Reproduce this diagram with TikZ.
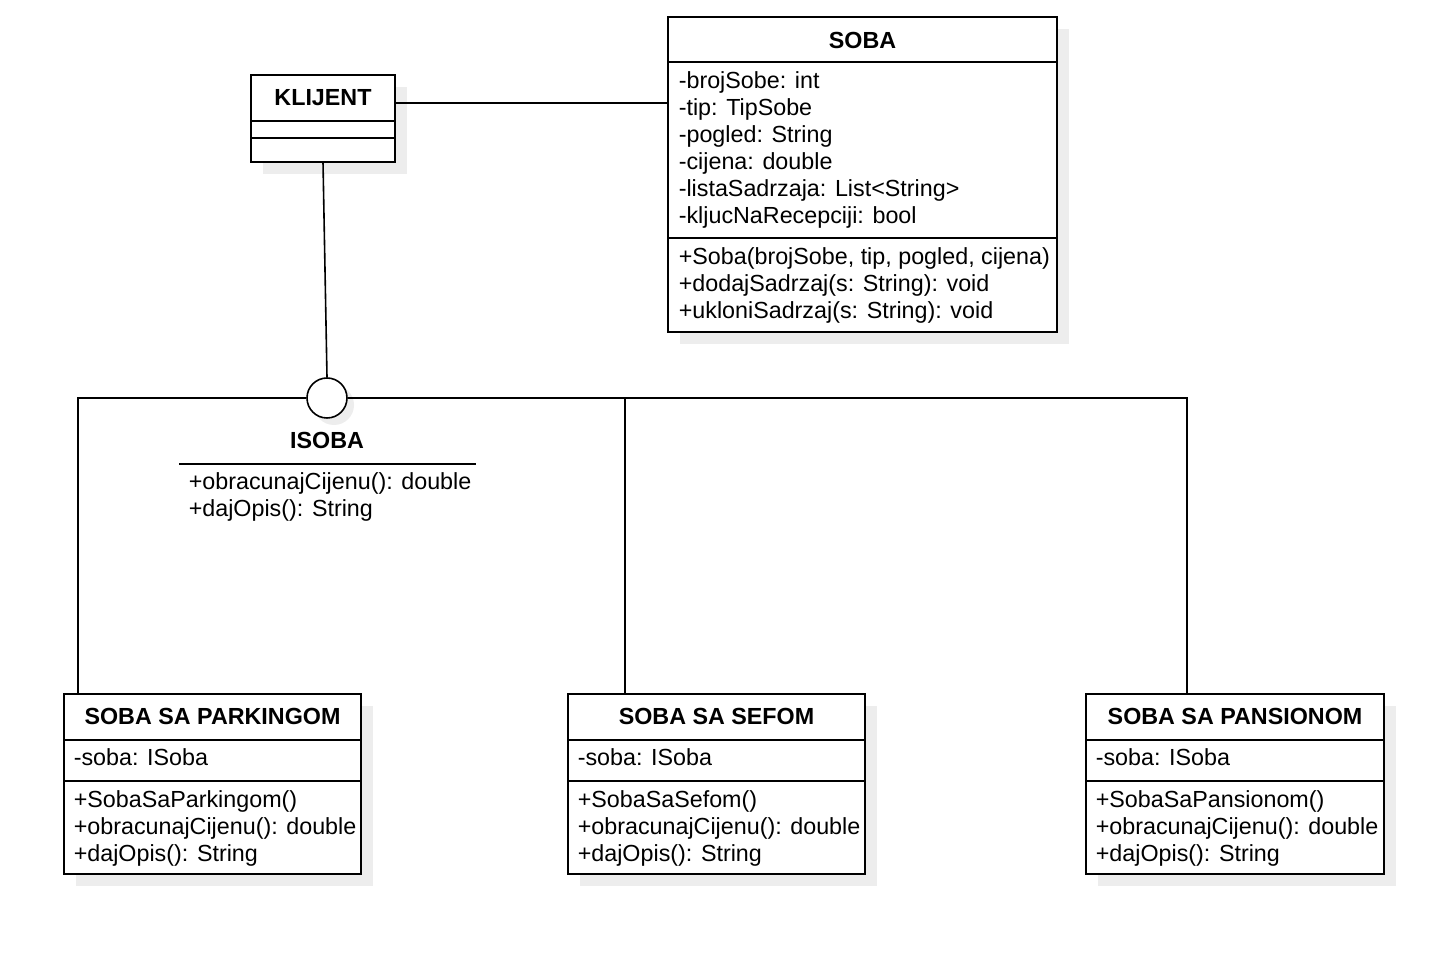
\documentclass[tikz,border=0pt]{standalone}
\usepackage{fontspec}
\setmainfont{Liberation Sans}
\usetikzlibrary{calc}
\begin{document}
\begin{tikzpicture}[x=0.5pt,y=-0.5pt, line width=0.8pt,
  cls/.style={draw=black, fill=white, anchor=north west, inner sep=0, outer sep=0},
  shd/.style={fill=black!7, draw=none},
  txt/.style={anchor=base west, inner sep=0, font=\fontsize{11.65}{13.5}\selectfont},
  ttl/.style={anchor=base, inner sep=0, font=\fontsize{11.65}{13.5}\selectfont\bfseries},
  ]
\useasboundingbox[fill=white] (0,0) rectangle (1456,961);

% shadows
\fill[shd] (263,87) rectangle (407,174);
\fill[shd] (680,29) rectangle (1069,344);
\fill[shd] (76,706) rectangle (373,886);
\fill[shd] (580,706) rectangle (877,886);
\fill[shd] (1098,706) rectangle (1396,886);
\fill[shd] (334,405) circle[radius=10pt];

% KLIJENT
\node[cls, minimum width=72pt, minimum height=43.5pt] (klijent) at (251,75) {};
\draw (251,121) -- (395,121);
\draw (251,138) -- (395,138);
\node[ttl] (klijentT) at (323,106) {KLIJENT};

% SOBA
\node[cls, minimum width=194.5pt, minimum height=157.5pt] (soba) at (668,17) {};
\draw (668,62) -- (1057,62);
\draw (668,238) -- (1057,238);
\node[ttl] (sobaT) at (862.5,49) {SOBA};
\node[txt] (sa1) at (678,89) {-brojSobe: int};
\node[txt] (sa2) at (678,116) {-tip: TipSobe};
\node[txt] (sa3) at (678,143) {-pogled: String};
\node[txt] (sa4) at (678,170) {-cijena: double};
\node[txt] (sa5) at (678,197) {-listaSadrzaja: List<String>};
\node[txt] (sa6) at (678,224) {-kljucNaRecepciji: bool};
\node[txt] (sm1) at (678,265) {+Soba(brojSobe, tip, pogled, cijena)};
\node[txt] (sm2) at (678,292) {+dodajSadrzaj(s: String): void};
\node[txt] (sm3) at (678,319) {+ukloniSadrzaj(s: String): void};

% ISOBA interface
\node[circle, draw=black, fill=white, minimum size=20pt, inner sep=0] (isoba) at (327,398) {};
\node[ttl] (isobaT) at (327,449) {ISOBA};
\draw (179,464) -- (476,464);
\node[txt] (im1) at (188,490) {+obracunajCijenu(): double};
\node[txt] (im2) at (188,517) {+dajOpis(): String};

% SOBA SA PARKINGOM
\node[cls, minimum width=148.5pt, minimum height=90pt] (park) at (64,694) {};
\draw (64,740) -- (361,740);
\draw (64,781) -- (361,781);
\node[ttl] (parkT) at (212.5,725) {SOBA SA PARKINGOM};
\node[txt] (pa1) at (73,766) {-soba: ISoba};
\node[txt] (pm1) at (73,807) {+SobaSaParkingom()};
\node[txt] (pm2) at (73,834) {+obracunajCijenu(): double};
\node[txt] (pm3) at (73,861) {+dajOpis(): String};

% SOBA SA SEFOM
\node[cls, minimum width=148.5pt, minimum height=90pt] (sef) at (568,694) {};
\draw (568,740) -- (865,740);
\draw (568,781) -- (865,781);
\node[ttl] (sefT) at (716.5,725) {SOBA SA SEFOM};
\node[txt] (fa1) at (577,766) {-soba: ISoba};
\node[txt] (fm1) at (577,807) {+SobaSaSefom()};
\node[txt] (fm2) at (577,834) {+obracunajCijenu(): double};
\node[txt] (fm3) at (577,861) {+dajOpis(): String};

% SOBA SA PANSIONOM
\node[cls, minimum width=149pt, minimum height=90pt] (pans) at (1086,694) {};
\draw (1086,740) -- (1384,740);
\draw (1086,781) -- (1384,781);
\node[ttl] (pansT) at (1235,725) {SOBA SA PANSIONOM};
\node[txt] (na1) at (1095,766) {-soba: ISoba};
\node[txt] (nm1) at (1095,807) {+SobaSaPansionom()};
\node[txt] (nm2) at (1095,834) {+obracunajCijenu(): double};
\node[txt] (nm3) at (1095,861) {+dajOpis(): String};

% connectors
\draw ([yshift=7.75pt]klijent.east) -- ([yshift=7.75pt]klijent.east -| soba.west);
\draw (klijent.south) -- (isoba.north);
\draw (isoba.west) -| ([xshift=7pt]park.north west);
\draw (isoba.east) -| ([xshift=28.5pt]sef.north west);
\draw (isoba.east) -| ([xshift=50.5pt]pans.north west);
\end{tikzpicture}
\end{document}
